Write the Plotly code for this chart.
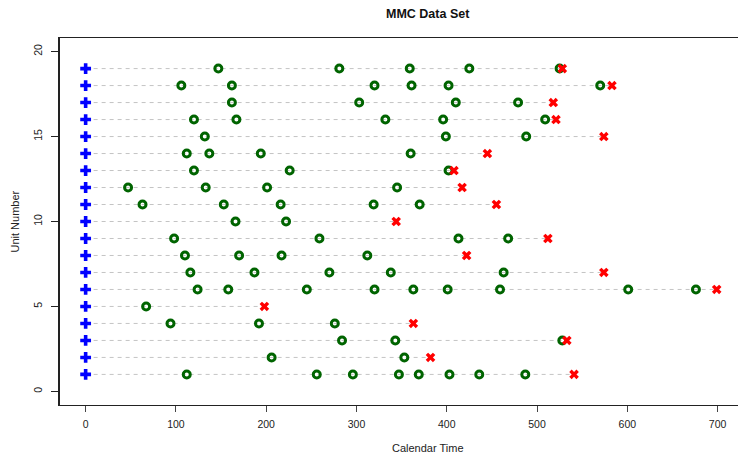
import plotly.graph_objects as go

# ---- data ----
units = list(range(1, 20))
end_times = [541, 382, 533, 363, 198, 699, 574, 422, 512, 344,
             455, 417, 408, 445, 574, 521, 518, 583, 528]
event_times = [
    [112, 256, 296, 347, 369, 403, 436, 487],
    [206, 353],
    [284, 343, 528],
    [94, 192, 276],
    [67],
    [124, 158, 245, 320, 363, 401, 459, 601, 676],
    [116, 187, 270, 338, 463],
    [110, 170, 217, 312],
    [98, 259, 413, 468],
    [166, 222],
    [63, 153, 216, 319, 370],
    [47, 133, 201, 345],
    [120, 226, 402],
    [112, 137, 194, 360],
    [132, 399, 488],
    [120, 167, 332, 396, 509],
    [162, 303, 410, 479],
    [106, 162, 320, 361, 402, 570],
    [147, 281, 359, 425, 525],
]
start_time = 0
x_ticks = [0, 100, 200, 300, 400, 500, 600, 700]
y_ticks = [0, 5, 10, 15, 20]

fig = go.Figure()

# dashed lines from start to end of observation
lx, ly = [], []
for u, e in zip(units, end_times):
    lx += [start_time, e, None]
    ly += [u, u, None]
fig.add_trace(go.Scatter(x=lx, y=ly, mode="lines",
                         line=dict(color="#c4c4c4", width=1, dash="4px,4px"),
                         hoverinfo="skip", showlegend=False))

# events
ex, ey = [], []
for u, ts in zip(units, event_times):
    ex += ts
    ey += [u] * len(ts)
fig.add_trace(go.Scatter(x=ex, y=ey, mode="markers",
                         marker=dict(symbol="circle-open", size=7, color="#006400",
                                     line=dict(width=3, color="#006400")),
                         showlegend=False))

# end of observation
fig.add_trace(go.Scatter(x=end_times, y=units, mode="markers",
                         marker=dict(symbol="x", size=8.5, color="#ff0000",
                                     line=dict(width=0)),
                         showlegend=False))

# start
fig.add_trace(go.Scatter(x=[start_time] * len(units), y=units, mode="markers",
                         marker=dict(symbol="cross", size=9, color="#0000ff",
                                     line=dict(width=0)),
                         showlegend=False))

font_family = "Liberation Sans, Arial, sans-serif"

fig.update_layout(
    width=738, height=453,
    margin=dict(l=60, r=0, t=38, b=48),
    paper_bgcolor="white", plot_bgcolor="white",
    font=dict(family=font_family, size=10.5, color="#222"),
    xaxis=dict(range=[-28.4, 722.6], tickvals=x_ticks, ticks="outside",
               ticklen=6, tickcolor="#444", showgrid=False, zeroline=False,
               showline=True, linecolor="#222", linewidth=1.2, mirror=True,
               ticklabelstandoff=3),
    yaxis=dict(range=[-0.8, 20.8], tickvals=y_ticks, ticks="outside",
               ticklen=7, tickcolor="#222", showgrid=False, zeroline=False,
               showline=True, linecolor="#222", linewidth=1.5, mirror=False,
               tickangle=-90, ticklabelstandoff=5),
    annotations=[
        dict(text="<b>MMC Data Set</b>", x=401/738, y=1 + (38 - 14) / 367,
             xref="paper", yref="paper", xanchor="center", yanchor="middle",
             showarrow=False, font=dict(size=12.5, family=font_family, color="#111")),
        dict(text="Calendar Time", x=401/738, y=-(448 - 405) / 367,
             xref="paper", yref="paper", xanchor="center", yanchor="middle",
             showarrow=False, font=dict(size=11, family=font_family, color="#222")),
        dict(text="Unit Number", x=-(60 - 14) / 678, y=0.5, textangle=-90,
             xref="paper", yref="paper", xanchor="center", yanchor="middle",
             showarrow=False, font=dict(size=11, family=font_family, color="#222")),
    ],
)

fig.write_html("out.html")
